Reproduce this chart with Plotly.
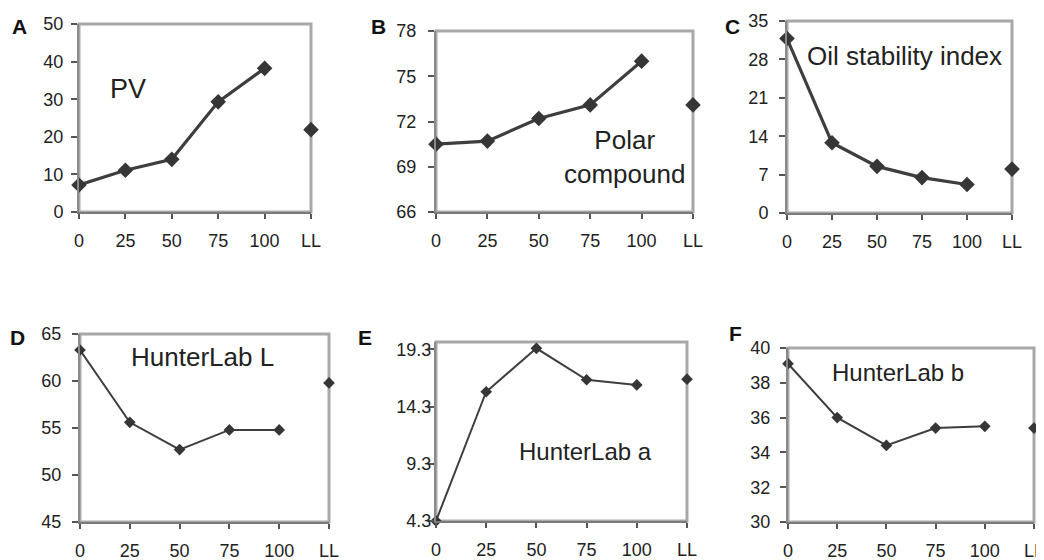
import plotly.graph_objects as go

# ---------------- data ----------------
x_labels = ["0", "25", "50", "75", "100", "LL"]

pv = [7.2, 11.1, 14.0, 29.3, 38.2]
pv_ll = 21.9

polar = [70.5, 70.7, 72.2, 73.1, 76.0]
polar_ll = 73.1

osi = [31.8, 12.8, 8.5, 6.45, 5.2]
osi_ll = 8.0

hunter_L = [63.3, 55.6, 52.7, 54.8, 54.8]
hunter_L_ll = 59.8

hunter_a = [4.3, 15.6, 19.4, 16.65, 16.2]
hunter_a_ll = 16.7

hunter_b = [39.1, 36.0, 34.4, 35.4, 35.5]
hunter_b_ll = 35.4

yticks_A = [0, 10, 20, 30, 40, 50]
yticks_B = [66, 69, 72, 75, 78]
yticks_C = [0, 7, 14, 21, 28, 35]
yticks_D = [45, 50, 55, 60, 65]
yticks_E = [4.3, 9.3, 14.3, 19.3]
yticks_F = [30, 32, 34, 36, 38, 40]

# ---------------- layout helpers ----------------
W, H = 1044, 560
OFF = 8  # page offset of the figure inside the browser window
FONT = "Liberation Sans, Arial, sans-serif"
LINE_C = "#3e3e3e"
MARK_C = "#363636"


def fx(p):
    return (p - OFF) / W


def fy(p):
    return 1 - (p - OFF) / H


panels = [
    dict(letter="A", label="PV", vals=pv, ll=pv_ll, yt=yticks_A, yr=[0, 50],
         box=(79, 311, 24, 212), lpos=(19, 27), tpos=(128, 89), tsize=27, row=0, ystand=4),
    dict(letter="B", label="Polar<br>compound", vals=polar, ll=polar_ll, yt=yticks_B, yr=[66, 78],
         box=(436, 693, 31, 212), lpos=(378, 26), tpos=(624, 157), tsize=26, row=0, ystand=8),
    dict(letter="C", label="Oil stability index", vals=osi, ll=osi_ll, yt=yticks_C, yr=[0, 35],
         box=(787, 1012, 21, 213), lpos=(732, 27), tpos=(904, 56), tsize=26, row=0, ystand=7),
    dict(letter="D", label="HunterLab L", vals=hunter_L, ll=hunter_L_ll, yt=yticks_D, yr=[45, 65],
         box=(80, 329, 334, 522), lpos=(17, 337), tpos=(202, 357), tsize=26, row=1, ystand=7),
    dict(letter="E", label="HunterLab a", vals=hunter_a, ll=hunter_a_ll, yt=yticks_E, yr=[4.3, 19.95],
         box=(436, 687, 342, 521), lpos=(365, 337), tpos=(585, 451), tsize=24, row=1, ystand=-7),
    dict(letter="F", label="HunterLab b", vals=hunter_b, ll=hunter_b_ll, yt=yticks_F, yr=[30, 40],
         box=(788, 1034, 348, 522), lpos=(735, 333), tpos=(898, 372), tsize=24, row=1, ystand=6),
]

fig = go.Figure()
layout = {}
annotations = []
shapes = []

for i, p in enumerate(panels, start=1):
    sfx = "" if i == 1 else str(i)
    xa, ya = "x" + sfx, "y" + sfx
    x0, x1, yt, yb = p["box"]
    top = p["row"] == 0
    lw = 3.2 if top else 2
    ms = 12 if top else 9

    fig.add_trace(go.Scatter(
        x=x_labels[:5], y=p["vals"], mode="lines+markers",
        line=dict(color=LINE_C, width=lw),
        marker=dict(symbol="diamond", size=ms, color=MARK_C),
        cliponaxis=False, xaxis=xa, yaxis=ya, showlegend=False, hoverinfo="skip"))
    fig.add_trace(go.Scatter(
        x=[x_labels[5]], y=[p["ll"]], mode="markers",
        marker=dict(symbol="diamond", size=ms, color=MARK_C),
        cliponaxis=False, xaxis=xa, yaxis=ya, showlegend=False, hoverinfo="skip"))

    layout["xaxis" + sfx] = dict(
        domain=[fx(x0), fx(x1)], anchor=ya, type="category",
        categoryorder="array", categoryarray=x_labels,
        range=[0, 5], tickvals=x_labels, ticktext=x_labels,
        ticks="outside", ticklen=5, tickwidth=1.5, tickcolor="#555",
        showline=True, linecolor="#7a7a7a", linewidth=2,
        showgrid=False, zeroline=False, fixedrange=True, automargin=False,
        tickfont=dict(family=FONT, size=18, color="#222"),
        ticklabelstandoff=6)
    layout["yaxis" + sfx] = dict(
        domain=[fy(yb), fy(yt)], anchor=xa,
        range=p["yr"], tickvals=p["yt"],
        ticks="outside", ticklen=6, tickwidth=1.5, tickcolor="#555",
        showline=True, linecolor="#8a8a8a", linewidth=2,
        showgrid=False, zeroline=False, fixedrange=True, automargin=False,
        tickfont=dict(family=FONT, size=18, color="#222"),
        ticklabelstandoff=p["ystand"])

    shapes.append(dict(type="rect", xref=xa + " domain", yref=ya + " domain",
                       x0=0, x1=1, y0=0, y1=1, layer="below",
                       line=dict(color="#a8a8a8", width=3)))

    annotations.append(dict(text="<b>" + p["letter"] + "</b>", xref="paper", yref="paper",
                            x=fx(p["lpos"][0]), y=fy(p["lpos"][1]),
                            xanchor="center", yanchor="middle", showarrow=False,
                            font=dict(family=FONT, size=21, color="#111")))
    annotations.append(dict(text=p["label"], xref="paper", yref="paper",
                            x=fx(p["tpos"][0]), y=fy(p["tpos"][1]),
                            xanchor="center", yanchor="middle", showarrow=False,
                            font=dict(family=FONT, size=p["tsize"], color="#222")))

fig.update_layout(
    width=W, height=H,
    margin=dict(l=0, r=0, t=0, b=0, autoexpand=False),
    paper_bgcolor="white", plot_bgcolor="white",
    showlegend=False,
    annotations=annotations, shapes=shapes,
    **layout)

fig.write_html("out.html")
